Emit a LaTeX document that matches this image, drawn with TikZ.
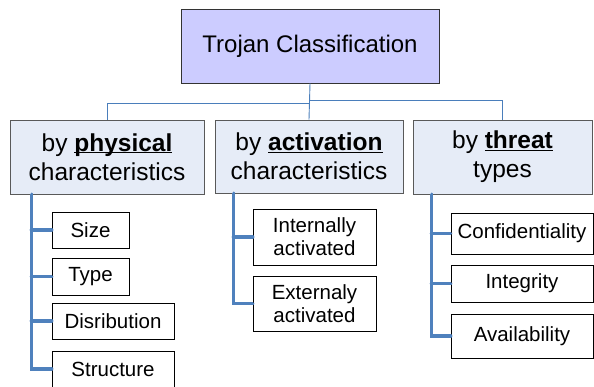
\documentclass[tikz,border=0pt]{standalone}
\usepackage{fontspec}
\setmainfont{Liberation Sans}
\definecolor{topfill}{HTML}{CCCCFF}
\definecolor{catfill}{HTML}{E6ECF7}
\definecolor{linkblue}{HTML}{4A7EBB}
\definecolor{barblue}{HTML}{4F81BD}
% underline drawn just under the baseline, crossing descenders
\newcommand{\keyword}[1]{\underline{\smash{\textbf{#1}}}\vphantom{py}}
\tikzset{
  box/.style={draw=black!80, line width=0.9pt, inner sep=0pt, align=center},
  rootbox/.style={box, fill=topfill, font=\fontsize{24}{29}\selectfont},
  catbox/.style={box, draw=black!65, fill=catfill, font=\fontsize{24.5}{29}\selectfont},
  leafbox/.style={box, draw=black, fill=white, font=\fontsize{20.5}{23}\selectfont},
  link/.style={draw=linkblue, line width=0.9pt},
  bar/.style={draw=barblue, line width=3.8pt, line cap=round}
}
\begin{document}
\begin{tikzpicture}[x=1pt,y=-1pt]
\useasboundingbox (0,0) rectangle (594,386);
\clip (0,0) rectangle (594,386);
\fill[white] (0,0) rectangle (594,386);

% root
\node[rootbox, minimum width=258pt, minimum height=74pt] (root) at (310,46) {Trojan Classification};

% categories
\node[catbox, minimum width=194pt, minimum height=74pt] (phys) at (107,157)
  {by \keyword{physical}\\characteristics};
\node[catbox, minimum width=188pt, minimum height=73pt] (act) at (309,156.5)
  {by \keyword{activation}\\characteristics};
\node[catbox, minimum width=179pt, minimum height=74pt] (threat) at (502.5,157)
  {by \keyword{threat}\\types};

% root to categories
\draw[link] (root.south) -- (act.north);
\draw[link] (root.south) ++(0,20) -| (phys.north);
\draw[link] (root.south) ++(0,17) -| (threat.north);

% physical leaves
\node[leafbox, minimum width=77pt, minimum height=36pt] (size) at (90.5,230) {Size};
\node[leafbox, minimum width=77pt, minimum height=37pt] (type) at (90.5,276.5) {Type};
\node[leafbox, minimum width=122pt, minimum height=36pt] (distr) at (113,321) {Disribution};
\node[leafbox, minimum width=122pt, minimum height=36pt] (struct) at (113,369) {Structure};

% activation leaves
\node[leafbox, minimum width=123pt, minimum height=56pt] (inta) at (314.5,237) {Internally\\activated};
\node[leafbox, minimum width=123pt, minimum height=55pt] (exta) at (314.5,303.5) {Externaly\\activated};

% threat leaves
\node[leafbox, minimum width=142pt, minimum height=41pt] (conf) at (522,233.5) {Confidentiality};
\node[leafbox, minimum width=142pt, minimum height=37pt] (integ) at (522,283.5) {Integrity};
\node[leafbox, minimum width=142pt, minimum height=44pt] (avail) at (522,336) {Availability};

% physical bar
\coordinate (pb) at ([xshift=22pt]phys.south west);
\draw[bar] (pb) |- (struct.west);
\foreach \leaf in {size,type,distr}
  \draw[bar] (pb |- \leaf.west) -- (\leaf.west);

% activation bar
\coordinate (ab) at ([xshift=19pt]act.south west);
\draw[bar] (ab) |- (exta.west);
\draw[bar] (ab |- inta.west) -- (inta.west);

% threat bar
\coordinate (tb) at ([xshift=19pt]threat.south west);
\draw[bar] (tb) |- (avail.west);
\foreach \leaf in {conf,integ}
  \draw[bar] (tb |- \leaf.west) -- (\leaf.west);
\end{tikzpicture}
\end{document}
